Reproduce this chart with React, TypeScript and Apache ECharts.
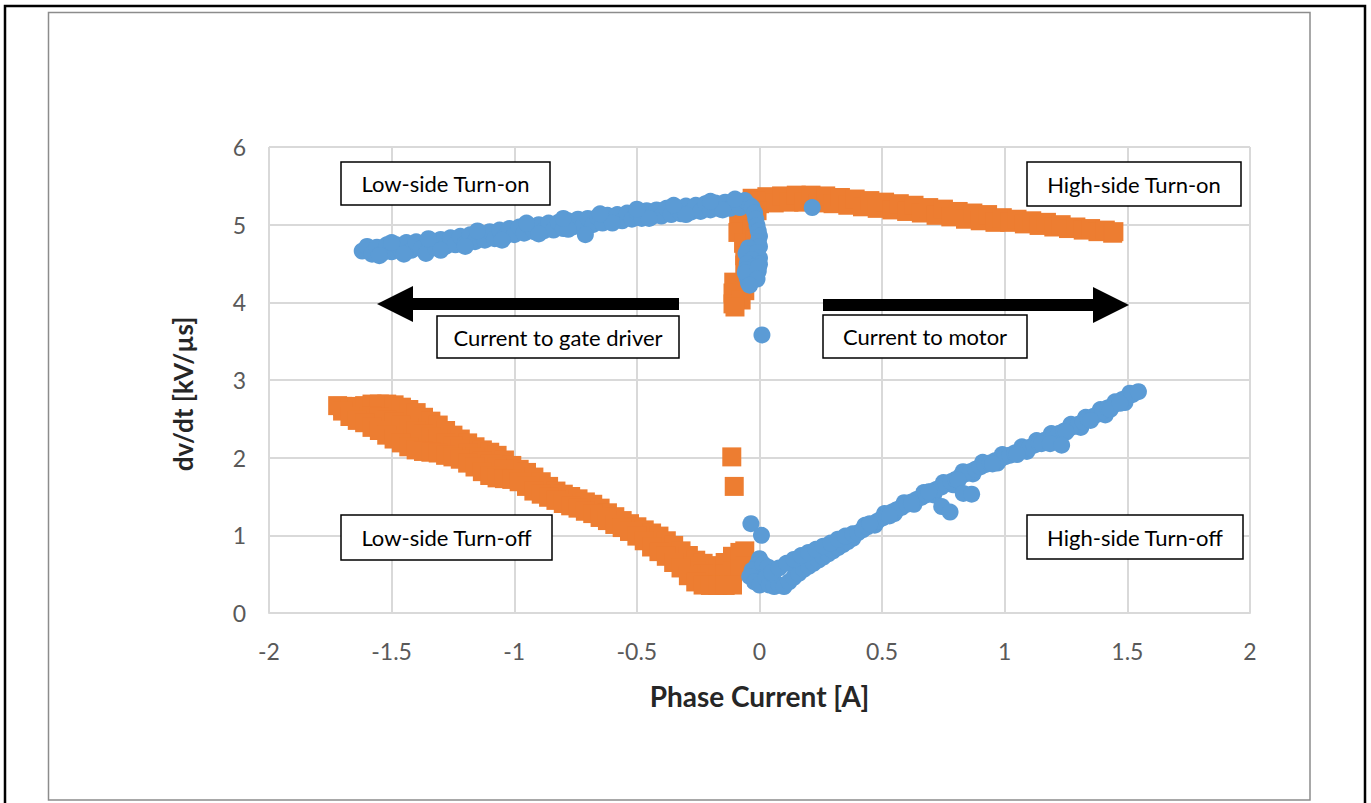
import React, { useEffect, useRef } from "react";
import * as echarts from "echarts";

type Pt = [number, number];

// Axis settings
const X_MIN = -2;
const X_MAX = 2;
const X_STEP = 0.5;
const Y_MIN = 0;
const Y_MAX = 6;
const Y_STEP = 1;

const X_TITLE = "Phase Current [A]";
const Y_TITLE = "dv/dt [kV/µs]";

// Blue (circles): Low-side Turn-on band
const lowSideTurnOn: Pt[] = [
  [-1.62, 4.66], [-1.6, 4.72], [-1.58, 4.62], [-1.56, 4.71], [-1.54, 4.63], [-1.52, 4.74],
  [-1.5, 4.65], [-1.48, 4.74], [-1.46, 4.65], [-1.44, 4.77], [-1.42, 4.67], [-1.4, 4.78],
  [-1.38, 4.69], [-1.36, 4.63], [-1.34, 4.79], [-1.32, 4.7], [-1.3, 4.81], [-1.28, 4.72],
  [-1.26, 4.83], [-1.24, 4.74], [-1.22, 4.85], [-1.2, 4.76], [-1.18, 4.87], [-1.16, 4.78],
  [-1.14, 4.89], [-1.12, 4.8], [-1.1, 4.91], [-1.08, 4.82], [-1.06, 4.93], [-1.04, 4.84],
  [-1.02, 4.95], [-1.0, 4.87], [-0.98, 4.97], [-0.96, 4.89], [-0.94, 4.99], [-0.92, 4.91],
  [-0.9, 5.0], [-0.88, 4.92], [-0.86, 5.02], [-0.84, 4.93], [-0.82, 5.03], [-0.8, 4.95],
  [-0.78, 5.05], [-0.76, 4.97], [-0.74, 5.07], [-0.72, 4.98], [-0.7, 5.08], [-0.68, 5.0],
  [-0.66, 5.1], [-0.64, 5.02], [-0.62, 5.12], [-0.6, 5.04], [-0.58, 5.13], [-0.56, 5.05],
  [-0.54, 5.15], [-0.52, 5.07], [-0.5, 5.16], [-0.48, 5.08], [-0.46, 5.18], [-0.44, 5.1],
  [-0.42, 5.19], [-0.4, 5.11], [-0.38, 5.21], [-0.36, 5.13], [-0.34, 5.22], [-0.32, 5.14],
  [-0.3, 5.24], [-0.28, 5.16], [-0.26, 5.25], [-0.24, 5.17], [-0.22, 5.27], [-0.2, 5.19],
  [-0.18, 5.28], [-0.16, 5.2], [-0.14, 5.29], [-0.12, 5.21], [-0.1, 5.3], [-0.08, 5.22],
  [-0.06, 5.31], [-0.04, 5.25],
];
const lowSideTurnOnLumps: Pt[] = [
  [-1.55, 4.6], [-1.45, 4.62], [-1.3, 4.67], [-1.2, 4.72], [-1.05, 4.8], [-0.9, 4.88],
  [-0.78, 4.94], [-0.6, 5.02], [-0.45, 5.08], [-0.3, 5.13], [-0.15, 5.19],
  [-1.5, 4.77], [-1.35, 4.82], [-1.15, 4.92], [-0.95, 5.02], [-0.8, 5.08], [-0.65, 5.14],
  [-0.5, 5.2], [-0.35, 5.25], [-0.2, 5.3], [-0.1, 5.33],
];

// Blue: descending hook near zero current (turn-on)
const lowSideTurnOnHook: Pt[] = [
  [-0.03, 5.22], [-0.02, 5.15], [-0.015, 5.07], [-0.01, 4.99], [-0.005, 4.92], [0.0, 4.85],
  [-0.005, 4.78], [0.0, 4.72], [-0.045, 4.7], [-0.055, 4.63], [-0.01, 4.64], [0.0, 4.57],
  [-0.03, 4.55], [-0.05, 4.5], [0.0, 4.49], [-0.02, 4.46], [-0.055, 4.42], [-0.005, 4.4],
  [-0.035, 4.37], [-0.05, 4.31], [-0.02, 4.32], [-0.045, 4.25],
  [-0.058, 4.38], [-0.005, 4.45], [-0.01, 4.3], [-0.04, 4.22],
];

// Blue: isolated points
const blueOutliers: Pt[] = [
  [0.01, 3.58], [0.215, 5.22], [-0.71, 4.87],
  [0.743, 1.37], [0.777, 1.3], [0.831, 1.54], [0.865, 1.53], [1.185, 2.18], [1.232, 2.16],
];

// Blue: cluster near zero current (turn-off)
const highSideTurnOffNearZero: Pt[] = [
  [-0.035, 1.15], [0.008, 1.0], [0.0, 0.7], [-0.01, 0.62], [-0.03, 0.55], [-0.04, 0.47],
  [0.015, 0.63], [0.035, 0.59], [-0.02, 0.4], [0.0, 0.36], [0.025, 0.45], [0.04, 0.36],
  [0.06, 0.34], [0.08, 0.36], [0.1, 0.34], [0.055, 0.5],
];

// Blue: High-side Turn-off band
const highSideTurnOffLower: Pt[] = [
  [0.12, 0.4], [0.14, 0.46], [0.16, 0.51], [0.18, 0.56], [0.2, 0.6], [0.22, 0.64],
  [0.24, 0.68], [0.26, 0.72], [0.28, 0.76], [0.3, 0.8], [0.32, 0.84], [0.34, 0.88],
  [0.36, 0.92], [0.38, 0.96],
  [0.47, 1.13], [0.55, 1.28], [0.63, 1.4], [0.71, 1.52], [0.79, 1.65], [0.87, 1.79],
  [0.97, 1.93], [1.09, 2.08], [1.21, 2.25], [1.31, 2.39], [1.41, 2.55], [1.49, 2.71],
];
const highSideTurnOffUpper: Pt[] = [
  [0.05, 0.52], [0.08, 0.58], [0.11, 0.64], [0.14, 0.69], [0.17, 0.74], [0.2, 0.78],
  [0.23, 0.82], [0.26, 0.86], [0.29, 0.9], [0.32, 0.95], [0.35, 0.99], [0.38, 1.02],
  [0.43, 1.13], [0.51, 1.28], [0.59, 1.42], [0.67, 1.55], [0.75, 1.68], [0.83, 1.82],
  [0.91, 1.94], [0.99, 2.04], [1.07, 2.14], [1.13, 2.22], [1.19, 2.31], [1.27, 2.43],
  [1.33, 2.52], [1.39, 2.62], [1.45, 2.72], [1.51, 2.83],
];
const highSideTurnOff: Pt[] = [
  [0.4, 1.03], [0.42, 1.07], [0.44, 1.11], [0.46, 1.14], [0.48, 1.18], [0.5, 1.22],
  [0.52, 1.26], [0.54, 1.3], [0.56, 1.33], [0.58, 1.36], [0.6, 1.4], [0.62, 1.43],
  [0.64, 1.46], [0.66, 1.49], [0.68, 1.52], [0.7, 1.56], [0.72, 1.59], [0.74, 1.62],
  [0.76, 1.66], [0.78, 1.69], [0.8, 1.72], [0.82, 1.76], [0.84, 1.79], [0.86, 1.82],
  [0.88, 1.85], [0.9, 1.88], [0.92, 1.91], [0.94, 1.93], [0.96, 1.96], [0.98, 1.98],
  [1.0, 2.01], [1.02, 2.03], [1.04, 2.06], [1.06, 2.08], [1.08, 2.11], [1.1, 2.13],
  [1.12, 2.16], [1.14, 2.19], [1.16, 2.22], [1.18, 2.25], [1.2, 2.28], [1.22, 2.31],
  [1.24, 2.34], [1.26, 2.37], [1.28, 2.4], [1.3, 2.43], [1.32, 2.46], [1.34, 2.5],
  [1.36, 2.53], [1.38, 2.56], [1.4, 2.6], [1.42, 2.64], [1.44, 2.67], [1.46, 2.71],
  [1.48, 2.75], [1.5, 2.78], [1.52, 2.81], [1.545, 2.85],
  [1.05, 2.04], [1.15, 2.18], [1.25, 2.33], [1.35, 2.48], [1.43, 2.62], [1.47, 2.7],
  [0.95, 1.92], [0.62, 1.41], [0.45, 1.15], [0.53, 1.25], [0.69, 1.56], [0.81, 1.71],
];

// Orange (squares): High-side Turn-on band
const highSideTurnOn: Pt[] = [
  [-0.03, 5.34], [0.0, 5.27], [0.03, 5.36], [0.06, 5.28], [0.09, 5.37], [0.12, 5.29],
  [0.15, 5.38], [0.18, 5.29], [0.21, 5.38], [0.24, 5.28], [0.27, 5.37], [0.3, 5.27],
  [0.33, 5.35], [0.36, 5.25], [0.39, 5.33], [0.42, 5.23], [0.45, 5.31], [0.48, 5.21],
  [0.51, 5.29], [0.54, 5.19], [0.57, 5.27], [0.6, 5.17], [0.63, 5.25], [0.66, 5.15],
  [0.69, 5.22], [0.72, 5.12], [0.75, 5.2], [0.78, 5.1], [0.81, 5.17], [0.84, 5.07],
  [0.87, 5.15], [0.9, 5.05], [0.93, 5.13], [0.96, 5.03], [0.99, 5.09], [1.02, 5.03],
  [1.05, 5.07], [1.08, 5.01], [1.11, 5.05], [1.14, 4.99], [1.17, 5.03], [1.2, 4.97],
  [1.23, 5.0], [1.26, 4.95], [1.29, 4.97], [1.32, 4.93], [1.35, 4.95], [1.38, 4.91],
  [1.41, 4.93], [1.44, 4.89], [1.445, 4.91],
];

// Orange: vertical part near zero current (turn-on)
const highSideTurnOnHook: Pt[] = [
  [-0.015, 5.3], [-0.01, 5.18], [-0.02, 5.08], [-0.085, 5.02], [-0.088, 4.9], [-0.03, 4.95],
  [-0.065, 4.76], [-0.02, 4.8], [-0.06, 4.6], [-0.03, 4.65], [-0.06, 4.48], [-0.03, 4.42],
  [-0.105, 4.26], [-0.05, 4.28], [-0.108, 4.12], [-0.06, 4.15], [-0.108, 3.98], [-0.075, 4.03],
  [-0.1, 3.94],
];

// Orange: Low-side Turn-off band (upper edge, middle, lower edge)
const lowSideTurnOffUpper: Pt[] = [
  [-1.72, 2.67], [-1.7, 2.66], [-1.67, 2.65], [-1.64, 2.66], [-1.61, 2.67],
  [-1.58, 2.69], [-1.55, 2.69], [-1.52, 2.69], [-1.49, 2.68], [-1.46, 2.65], [-1.43, 2.62],
  [-1.4, 2.58], [-1.37, 2.52], [-1.34, 2.47], [-1.31, 2.42], [-1.28, 2.35], [-1.25, 2.29],
  [-1.22, 2.24], [-1.19, 2.19], [-1.16, 2.14], [-1.13, 2.1], [-1.1, 2.07], [-1.07, 2.03],
  [-1.04, 1.97], [-1.01, 1.9], [-0.98, 1.85], [-0.95, 1.81], [-0.92, 1.75], [-0.89, 1.69],
  [-0.86, 1.63], [-0.83, 1.57], [-0.8, 1.53], [-0.77, 1.5], [-0.74, 1.47], [-0.71, 1.43],
  [-0.68, 1.4], [-0.65, 1.35], [-0.62, 1.29], [-0.59, 1.24], [-0.56, 1.19], [-0.53, 1.15],
  [-0.5, 1.11], [-0.47, 1.07], [-0.44, 1.03], [-0.41, 0.99], [-0.38, 0.93], [-0.35, 0.87],
  [-0.32, 0.8], [-0.29, 0.74], [-0.26, 0.68], [-0.23, 0.64], [-0.2, 0.61], [-0.17, 0.58],
  [-0.14, 0.65], [-0.11, 0.73], [-0.08, 0.78], [-0.06, 0.8],
];
const lowSideTurnOffMiddle: Pt[] = [
  [-1.58, 2.54], [-1.55, 2.52], [-1.52, 2.49], [-1.49, 2.46], [-1.46, 2.42], [-1.43, 2.38],
  [-1.4, 2.34], [-1.37, 2.3], [-1.34, 2.27], [-1.31, 2.24], [-1.28, 2.19], [-1.25, 2.15],
  [-1.22, 2.11], [-1.19, 2.06], [-1.16, 2.01], [-1.13, 1.96], [-1.1, 1.92], [-1.07, 1.885],
  [-1.04, 1.85], [-0.29, 0.61], [-0.26, 0.54], [-0.23, 0.5], [-0.2, 0.48], [-0.17, 0.47],
  [-0.14, 0.5], [-0.11, 0.54], [-0.08, 0.57], [-0.06, 0.6],
];
const lowSideTurnOffLower: Pt[] = [
  [-1.7, 2.6], [-1.67, 2.53], [-1.64, 2.48], [-1.61, 2.45], [-1.58, 2.39],
  [-1.55, 2.35], [-1.52, 2.29], [-1.49, 2.24], [-1.46, 2.19], [-1.43, 2.14], [-1.4, 2.1],
  [-1.37, 2.08], [-1.34, 2.07], [-1.31, 2.06], [-1.28, 2.03], [-1.25, 2.01], [-1.22, 1.98],
  [-1.19, 1.93], [-1.16, 1.88], [-1.13, 1.82], [-1.1, 1.77], [-1.07, 1.74], [-1.04, 1.73],
  [-1.01, 1.72], [-0.98, 1.69], [-0.95, 1.63], [-0.92, 1.57], [-0.89, 1.53], [-0.86, 1.49],
  [-0.83, 1.45], [-0.8, 1.41], [-0.77, 1.38], [-0.74, 1.35], [-0.71, 1.31], [-0.68, 1.28],
  [-0.65, 1.23], [-0.62, 1.19], [-0.59, 1.14], [-0.56, 1.1], [-0.53, 1.05], [-0.5, 0.99],
  [-0.47, 0.93], [-0.44, 0.85], [-0.41, 0.79], [-0.38, 0.73], [-0.35, 0.65], [-0.32, 0.58],
  [-0.29, 0.48], [-0.26, 0.4], [-0.23, 0.36], [-0.2, 0.355], [-0.17, 0.355], [-0.14, 0.355],
  [-0.11, 0.36],
];

// Orange: isolated points
const orangeOutliers: Pt[] = [
  [-0.113, 2.01], [-0.103, 1.63],
];

// Annotation texts
const annotations = [
  { text: "Low-side Turn-on", box: [341, 162, 209, 43] },
  { text: "High-side Turn-on", box: [1027, 162, 214, 44] },
  { text: "Current to gate driver", box: [437, 316, 242, 42] },
  { text: "Current to motor", box: [823, 315, 204, 43] },
  { text: "Low-side Turn-off", box: [341, 515, 211, 45] },
  { text: "High-side Turn-off", box: [1027, 515, 216, 44] },
];

const BLUE = "#5B9BD5";
const ORANGE = "#ED7D31";
const FONT = "Lato, 'Open Sans', sans-serif";

export default function App() {
  const ref = useRef<HTMLDivElement>(null);

  useEffect(() => {
    if (!ref.current) return;
    const chart = echarts.init(ref.current, null, { renderer: "svg" });

    const orangeSeries = (name: string, data: Pt[]) => ({
      type: "scatter",
      name,
      data,
      symbol: "rect",
      symbolSize: 19,
      itemStyle: { color: ORANGE, opacity: 1 },
      silent: true,
    });
    const blueSeries = (name: string, data: Pt[]) => ({
      type: "scatter",
      name,
      data,
      symbol: "circle",
      symbolSize: 17,
      itemStyle: { color: BLUE, opacity: 1 },
      silent: true,
    });

    const boxes = annotations.map((a) => {
      const [x, y, w, h] = a.box;
      return {
        type: "group",
        z: 100,
        children: [
          {
            type: "rect",
            shape: { x, y, width: w, height: h },
            style: { fill: "#ffffff", stroke: "#000000", lineWidth: 1.5 },
            z: 100,
          },
          {
            type: "text",
            x: x + w / 2,
            y: y + h / 2,
            z: 101,
            style: {
              text: a.text,
              fill: "#000000",
              fontSize: 22,
              fontFamily: FONT,
              align: "center",
              verticalAlign: "middle",
              textAlign: "center",
              textVerticalAlign: "middle",
            },
          },
        ],
      };
    });

    const arrows = [
      {
        type: "polygon",
        z: 100,
        shape: {
          points: [[679, 298], [413, 298], [413, 286], [377, 304], [413, 322], [413, 310], [679, 310]],
        },
        style: { fill: "#000000" },
      },
      {
        type: "polygon",
        z: 100,
        shape: {
          points: [[823, 299], [1093, 299], [1093, 287], [1129, 305], [1093, 323], [1093, 311], [823, 311]],
        },
        style: { fill: "#000000" },
      },
    ];

    chart.setOption({
      animation: false,
      backgroundColor: "#ffffff",
      grid: {
        left: 269,
        right: 121,
        top: 147,
        bottom: 190,
        containLabel: false,
        outerBoundsMode: "none",
      },
      xAxis: {
        type: "value",
        min: X_MIN,
        max: X_MAX,
        interval: X_STEP,
        name: X_TITLE,
        nameLocation: "middle",
        nameGap: 69,
        nameTextStyle: { fontSize: 28, fontWeight: "bold", color: "#262626", fontFamily: FONT },
        axisLine: { show: true, onZero: false, lineStyle: { color: "#d9d9d9", width: 2 } },
        axisTick: { show: false },
        axisLabel: { color: "#595959", fontSize: 23, fontFamily: FONT, margin: 26 },
        splitLine: { show: true, lineStyle: { color: "#d9d9d9", width: 2 } },
      },
      yAxis: [
        {
          type: "value",
          min: Y_MIN,
          max: Y_MAX,
          interval: Y_STEP,
          position: "left",
          axisLine: { show: false, onZero: false },
          axisTick: { show: false },
          axisLabel: { show: false },
          splitLine: { show: true, lineStyle: { color: "#d9d9d9", width: 2 } },
        },
        {
          type: "value",
          min: Y_MIN,
          max: Y_MAX,
          interval: Y_STEP,
          position: "left",
          z: 10,
          axisLine: { show: false, onZero: true },
          axisTick: { show: false },
          axisLabel: { color: "#595959", fontSize: 23, fontFamily: FONT, margin: 23 },
          splitLine: { show: false },
        },
      ],
      graphic: [
        {
          type: "rect",
          shape: { x: 5, y: 6, width: 1360, height: 810 },
          style: { fill: "none", stroke: "#000000", lineWidth: 2.5 },
          silent: true,
          z: -10,
        },
        {
          type: "rect",
          shape: { x: 48.5, y: 12.5, width: 1261.5, height: 787.5 },
          style: { fill: "none", stroke: "#8c8c8c", lineWidth: 1.5 },
          silent: true,
          z: -10,
        },
        {
          type: "text",
          x: 183,
          y: 394,
          rotation: Math.PI / 2,
          style: {
            text: Y_TITLE,
            fill: "#262626",
            fontSize: 26,
            fontWeight: "bold",
            fontFamily: FONT,
            align: "center",
            verticalAlign: "middle",
            textAlign: "center",
            textVerticalAlign: "middle",
          },
        },
        ...arrows,
        ...boxes,
      ],
      series: [
        orangeSeries("Low-side Turn-off (upper)", lowSideTurnOffUpper),
        orangeSeries("Low-side Turn-off (middle)", lowSideTurnOffMiddle),
        orangeSeries("Low-side Turn-off (lower)", lowSideTurnOffLower),
        orangeSeries("Orange isolated", orangeOutliers),
        orangeSeries("High-side Turn-on", highSideTurnOn),
        orangeSeries("High-side Turn-on (near 0)", highSideTurnOnHook),
        blueSeries("Low-side Turn-on", lowSideTurnOn),
        blueSeries("Low-side Turn-on (lumps)", lowSideTurnOnLumps),
        blueSeries("Low-side Turn-on (near 0)", lowSideTurnOnHook),
        blueSeries("High-side Turn-off (near 0)", highSideTurnOffNearZero),
        blueSeries("High-side Turn-off (lower)", highSideTurnOffLower),
        blueSeries("High-side Turn-off (upper)", highSideTurnOffUpper),
        blueSeries("High-side Turn-off", highSideTurnOff),
        blueSeries("Blue isolated", blueOutliers),
      ],
    });

    return () => chart.dispose();
  }, []);

  return (
    <div
      ref={ref}
      style={{ position: "absolute", left: 0, top: 0, width: 1371, height: 803, background: "#ffffff" }}
    />
  );
}
